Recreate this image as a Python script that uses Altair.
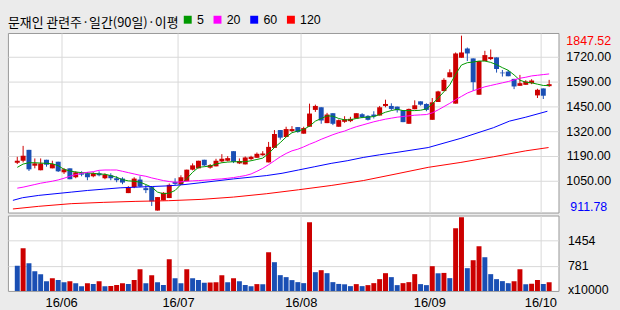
import altair as alt
import pandas as pd

TITLE = "문재인 관련주·일간(90일)·이평"

opens = [1167.7, 1178.3, 1236.6, 1151.8, 1127.1, 1183.6, 1137.7, 1173.0, 1116.5, 1137.7,
         1090.0, 1111.2, 1111.2, 1095.3, 1111.2, 1084.7, 1100.6, 1084.7, 1082.9, 1005.2,
         1037.0, 1077.6, 1031.7, 1037.0, 911.78, 966.3, 978.7, 1065.2, 1051.1, 1068.8,
         1130.6, 1137.7, 1183.6, 1141.2, 1148.3, 1174.7, 1178.3, 1229.5, 1164.2, 1158.8,
         1187.1, 1194.2, 1208.3, 1169.5, 1247.2, 1342.5, 1305.4, 1337.2, 1358.4, 1323.1,
         1360.2, 1450.3, 1464.4, 1379.6, 1432.6, 1360.2, 1386.7, 1390.2, 1404.4, 1427.3,
         1418.5, 1425.5, 1420.3, 1471.5, 1471.5, 1467.9, 1448.5, 1376.1, 1453.8, 1496.2,
         1482.1, 1397.3, 1492.7, 1551.0, 1625.1, 1483.8, 1729.3, 1778.8, 1725.8, 1531.5,
         1711.7, 1722.3, 1731.1, 1649.9, 1655.2, 1616.3, 1579.2, 1584.5, 1593.3, 1528.0,
         1565.1, 1577.4]
highs = [1199.5, 1257.8, 1236.6, 1190.6, 1190.6, 1183.6, 1178.3, 1173.0, 1139.4, 1137.7,
         1121.8, 1121.8, 1116.5, 1116.5, 1121.8, 1111.2, 1111.2, 1095.3, 1090.0, 1042.3,
         1090.0, 1095.3, 1049.3, 1042.3, 984.0, 1010.5, 1056.4, 1084.7, 1100.6, 1130.6,
         1164.2, 1178.3, 1183.6, 1160.6, 1188.9, 1213.6, 1203.0, 1229.5, 1190.6, 1201.2,
         1204.8, 1222.4, 1229.5, 1279.0, 1342.5, 1342.5, 1360.2, 1363.7, 1358.4, 1360.2,
         1483.8, 1478.5, 1464.4, 1434.4, 1432.6, 1399.1, 1416.7, 1413.2, 1432.6, 1432.6,
         1422.0, 1443.2, 1471.5, 1505.0, 1485.6, 1467.9, 1448.5, 1457.3, 1501.5, 1496.2,
         1485.6, 1513.9, 1552.7, 1619.8, 1667.5, 1757.6, 1847.52, 1784.1, 1725.8, 1711.7,
         1766.4, 1773.5, 1731.1, 1664.0, 1664.0, 1616.3, 1637.5, 1609.2, 1614.5, 1563.3,
         1565.1, 1611.0]
lows = [1160.6, 1169.5, 1123.5, 1137.7, 1127.1, 1146.5, 1137.7, 1118.2, 1107.6, 1079.4,
        1084.7, 1095.3, 1074.1, 1090.0, 1095.3, 1079.4, 1074.1, 1063.5, 1052.9, 1005.2,
        1031.7, 1037.0, 1005.2, 936.3, 911.78, 966.3, 978.7, 1049.3, 1051.1, 1068.8,
        1127.1, 1137.7, 1148.3, 1135.9, 1148.3, 1169.5, 1174.7, 1165.9, 1160.6, 1158.8,
        1181.8, 1194.2, 1204.8, 1169.5, 1247.2, 1291.3, 1305.4, 1331.9, 1328.4, 1323.1,
        1360.2, 1439.7, 1376.1, 1379.6, 1369.0, 1360.2, 1381.4, 1384.9, 1404.4, 1406.1,
        1393.8, 1404.4, 1420.3, 1464.4, 1448.5, 1436.1, 1384.9, 1376.1, 1453.8, 1473.2,
        1443.2, 1397.3, 1492.7, 1551.0, 1625.1, 1483.8, 1729.3, 1711.7, 1552.7, 1531.5,
        1711.7, 1717.0, 1649.9, 1628.7, 1630.4, 1561.5, 1579.2, 1584.5, 1588.0, 1513.9,
        1508.6, 1573.9]
closes = [1178.3, 1204.8, 1132.4, 1164.2, 1164.2, 1157.1, 1160.6, 1121.8, 1132.4, 1079.4,
          1116.5, 1104.1, 1090.0, 1111.2, 1100.6, 1104.1, 1084.7, 1074.1, 1061.7, 1037.0,
          1082.9, 1040.5, 1021.1, 961.0, 984.0, 1007.0, 1049.3, 1054.6, 1090.0, 1130.6,
          1153.6, 1178.3, 1153.6, 1155.3, 1178.3, 1188.9, 1192.4, 1173.0, 1176.5, 1195.9,
          1199.5, 1215.4, 1217.1, 1252.5, 1321.3, 1301.9, 1347.8, 1347.8, 1331.9, 1353.1,
          1430.8, 1471.5, 1393.8, 1425.5, 1376.1, 1395.5, 1400.8, 1402.6, 1432.6, 1411.4,
          1397.3, 1415.0, 1464.4, 1482.1, 1455.6, 1448.5, 1384.9, 1455.6, 1475.0, 1478.5,
          1450.3, 1490.9, 1549.2, 1611.0, 1651.6, 1752.3, 1757.6, 1752.3, 1598.6, 1711.7,
          1743.5, 1732.9, 1669.3, 1646.3, 1630.4, 1575.7, 1593.3, 1602.2, 1607.5, 1558.0,
          1526.2, 1588.0]
volumes = [779, 1251, 850, 637, 557, 370, 450, 397, 343, 370,
           316, 236, 316, 290, 370, 230, 238, 263, 316, 290,
           397, 690, 316, 530, 343, 263, 957, 450, 316, 690,
           450, 397, 325, 330, 340, 530, 343, 450, 370, 263,
           236, 290, 285, 1144, 877, 530, 477, 397, 343, 316,
           1945, 610, 663, 583, 343, 295, 285, 236, 290, 236,
           263, 316, 423, 583, 477, 263, 316, 343, 557, 290,
           263, 770, 580, 590, 450, 1785, 2079, 717, 930, 1304,
           1010, 557, 423, 370, 316, 370, 690, 285, 300, 397,
           290, 343]

ma5 = [1143.0, 1160.6, 1167.7, 1167.7, 1165.9, 1164.2, 1162.4, 1151.8, 1132.4, 1123.5,
       1118.2, 1114.7, 1112.9, 1111.2, 1107.6, 1105.9, 1098.8, 1090.0, 1077.6, 1070.6,
       1068.8, 1063.5, 1051.1, 1037.0, 1010.5, 1001.7, 1005.2, 1019.3, 1051.1, 1082.9,
       1116.5, 1143.0, 1146.5, 1150.0, 1160.6, 1167.7, 1171.2, 1173.0, 1173.0, 1173.0,
       1178.3, 1185.3, 1192.4, 1217.1, 1248.9, 1275.4, 1305.4, 1328.4, 1337.2, 1346.1,
       1363.7, 1390.2, 1404.4, 1418.5, 1416.7, 1404.4, 1397.3, 1397.3, 1404.4, 1409.7,
       1411.4, 1415.0, 1425.5, 1437.9, 1446.7, 1453.8, 1446.7, 1446.7, 1446.7, 1448.5,
       1455.6, 1482.1, 1513.9, 1547.4, 1584.5, 1641.0, 1690.5, 1702.9, 1706.4, 1711.7,
       1711.7, 1704.6, 1692.3, 1676.4, 1662.2, 1637.5, 1609.2, 1598.6, 1595.1, 1588.0,
       1581.0, 1581.0]
ma20 = [1031.7, 1037.0, 1044.1, 1051.1, 1058.2, 1063.5, 1068.8, 1075.8, 1084.7, 1095.3,
        1104.1, 1111.2, 1116.5, 1120.0, 1127.1, 1128.8, 1128.8, 1128.8, 1121.8, 1114.7,
        1107.6, 1100.6, 1095.3, 1086.5, 1079.4, 1072.3, 1067.0, 1063.5, 1065.2, 1068.8,
        1070.6, 1072.3, 1074.1, 1075.8, 1079.4, 1081.2, 1084.7, 1088.2, 1093.5, 1098.8,
        1107.6, 1121.8, 1137.7, 1157.1, 1178.3, 1199.5, 1217.1, 1231.3, 1240.1, 1252.5,
        1266.6, 1279.0, 1293.1, 1305.4, 1317.8, 1328.4, 1337.2, 1349.6, 1360.2, 1369.0,
        1377.9, 1386.7, 1393.8, 1400.8, 1406.1, 1411.4, 1415.0, 1418.5, 1422.0, 1423.8,
        1425.5, 1434.4, 1450.3, 1467.9, 1485.6, 1505.0, 1522.7, 1540.4, 1552.7, 1563.3,
        1573.9, 1581.0, 1588.0, 1595.1, 1602.2, 1611.0, 1619.8, 1625.1, 1632.2, 1635.7,
        1639.3, 1642.8]
ma60_idx = [-0.75, 0.89, 3.67, 6.45, 9.23, 12.0, 14.8, 17.6, 20.3, 23.1, 25.9, 28.7, 31.45,
            37.0, 42.6, 45.3, 48.1, 50.9, 53.7, 56.45, 59.2, 62.0, 64.8, 70.3, 75.9, 81.45,
            84.2, 87.0, 90.7]
ma60 = [966.4, 980.5, 992.9, 1001.7, 1010.5, 1019.3, 1026.4, 1033.5, 1037.0, 1040.5, 1044.1,
        1051.1, 1061.0, 1081.1, 1098.8, 1111.2, 1128.8, 1146.5, 1164.2, 1178.3, 1196.0,
        1210.1, 1222.4, 1248.9, 1298.4, 1354.9, 1390.2, 1411.4, 1443.2]
ma120_idx = [-0.75, 3.67, 9.23, 14.8, 20.3, 25.9, 31.45, 37.0, 42.6, 48.1, 53.7, 59.2, 64.8,
             70.3, 75.9, 81.45, 87.0, 90.9]
ma120 = [920.4, 934.5, 948.7, 955.7, 961.0, 964.6, 971.6, 984.0, 1001.7, 1022.9, 1045.9,
         1072.3, 1107.6, 1143.0, 1169.5, 1199.5, 1231.3, 1249.0]

ma_names = ["5", "20", "60", "120"]
ma_colors = ["#009900", "#ff00ff", "#0000ff", "#ff0000"]

month_bounds = [7.5, 27.5, 48.5, 70.5, 89.5]
month_labels = ["16/06", "16/07", "16/08", "16/09", "16/10"]
price_ticks = [930.9, 1070.8, 1203.8, 1336.7, 1469.7, 1602.7, 1735.7, 1819.4]
price_labels = ["911.78", "1050.00", "1190.00", "1320.00", "1450.00", "1590.00", "1720.00", "1847.52"]
vol_ticks = [156, 781, 1454]
vol_labels = ["x10000", "781", "1454"]

RED = "#cc0000"
BLUE = "#1a4fb4"
GRID = "#d9d9d9"
BG = "#ebebeb"
NUMFONT = "Liberation Sans"

idx = list(range(len(opens)))
df = pd.DataFrame({"idx": idx, "open": opens, "high": highs, "low": lows,
                   "close": closes, "volume": volumes})
df["dir"] = ["up" if c >= o else "down" for o, c in zip(opens, closes)]
prev = [None] + volumes[:-1]
df["vdir"] = ["up" if (p is not None and v > p) else "down" for v, p in zip(volumes, prev)]

ma_df = pd.concat([
    pd.DataFrame({"idx": idx, "value": ma5, "ma": "5"}),
    pd.DataFrame({"idx": idx, "value": ma20, "ma": "20"}),
    pd.DataFrame({"idx": ma60_idx, "value": ma60, "ma": "60"}),
    pd.DataFrame({"idx": ma120_idx, "value": ma120, "ma": "120"}),
], ignore_index=True)

xs = alt.Scale(domain=[-0.75, 91.75], nice=False, zero=False)
ys = alt.Scale(domain=[901.2, 1861.8], nice=False, zero=False)
vs = alt.Scale(domain=[108, 2127], nice=False, zero=False)
cs = alt.Scale(domain=["up", "down"], range=[RED, BLUE])


def range_expr(values, labels):
    # pick the label of the nearest tick value (robust to float rounding)
    expr = f"'{labels[-1]}'"
    for i in range(len(values) - 2, -1, -1):
        thr = (values[i] + values[i + 1]) / 2
        expr = f"(datum.value < {thr} ? '{labels[i]}' : {expr})"
    return expr


price_x_axis = alt.Axis(values=month_bounds, tickCount=len(month_bounds), labels=False,
                        ticks=False, domain=False, grid=True, gridColor=GRID, title=None)
price_y_axis = alt.Axis(
    orient="right", values=price_ticks, tickCount=len(price_ticks), title=None,
    ticks=False, domain=False,
    labelExpr=range_expr(price_ticks, price_labels), labelAlign="center",
    labelPadding=30, labelFont=NUMFONT, labelFontSize=12.5, labelFlush=False,
    labelOverlap=False, labelBound=False,
    labelColor={"condition": [{"test": "datum.value > 1800", "value": "#ff0000"},
                              {"test": "datum.value < 1000", "value": "#0000ff"}],
                "value": "#000000"},
    grid=True, gridColor=GRID,
    gridOpacity={"condition": {"test": "datum.value > 1800 || datum.value < 1000", "value": 0},
                 "value": 1},
)

base = alt.Chart(df)
wicks = base.mark_rule(strokeWidth=1).encode(
    x=alt.X("idx:Q", scale=xs, axis=price_x_axis, title=None),
    y=alt.Y("low:Q", scale=ys, axis=price_y_axis, title=None),
    y2="high:Q",
    color=alt.Color("dir:N", scale=cs, legend=None),
)
bodies = base.mark_bar(size=5).encode(
    x=alt.X("idx:Q", scale=xs, title=None),
    y=alt.Y("open:Q", scale=ys, title=None),
    y2="close:Q",
    color=alt.Color("dir:N", scale=cs, legend=None),
)
lines = alt.Chart(ma_df).mark_line(strokeWidth=1).encode(
    x=alt.X("idx:Q", scale=xs, title=None),
    y=alt.Y("value:Q", scale=ys, title=None),
    color=alt.Color(
        "ma:N", scale=alt.Scale(domain=ma_names, range=ma_colors),
        sort=ma_names,
        legend=alt.Legend(
            title=TITLE, orient="none", legendX=0, legendY=-20, direction="horizontal",
            titleOrient="left", titleFont="Noto Sans CJK KR", titleFontSize=13,
            titleFontWeight="normal", titleColor="#000000", titlePadding=2, titleLimit=400,
            symbolType="square", symbolSize=4, symbolStrokeWidth=6,
            labelFont=NUMFONT, labelFontSize=12.5, labelColor="#000000", labelOffset=3,
            columnPadding=0, padding=0, symbolOffset=0,
        ),
    ),
)
price = alt.layer(wicks, bodies, lines).resolve_scale(color="independent").properties(
    width=555, height=181)

vol_x_axis = alt.Axis(values=month_bounds, tickCount=len(month_bounds),
                      labelExpr=range_expr(month_bounds, month_labels),
                      ticks=False, domain=False, grid=True, gridColor=GRID, title=None,
                      labelFont="Liberation Sans", labelFontSize=13, labelPadding=6,
                      labelFlush=False, labelOverlap=False, labelColor="#000000")
vol_y_axis = alt.Axis(
    orient="right", values=vol_ticks, tickCount=len(vol_ticks), title=None,
    ticks=False, domain=False,
    labelExpr=range_expr(vol_ticks, vol_labels), labelAlign="left",
    labelPadding=9, labelFont=NUMFONT, labelFontSize=12.5, labelFlush=False,
    labelOverlap=False, labelColor="#000000",
    grid=True, gridColor=GRID,
    gridOpacity={"condition": {"test": "datum.value < 200", "value": 0}, "value": 1},
)
vol = alt.Chart(df).mark_bar(size=5, clip=True).encode(
    x=alt.X("idx:Q", scale=xs, axis=vol_x_axis, title=None),
    y=alt.Y("volume:Q", scale=vs, axis=vol_y_axis, title=None),
    color=alt.Color("vdir:N", scale=cs, legend=None),
).properties(width=555, height=76)

chart = alt.vconcat(price, vol, spacing=0).resolve_scale(color="independent").configure(
    background=BG,
    padding={"left": 7, "top": 11, "right": 8, "bottom": 0},
).configure_view(stroke="#999999", strokeWidth=1, fill="white")

chart.save("out.html", embed_options={"renderer": "svg", "actions": False})
